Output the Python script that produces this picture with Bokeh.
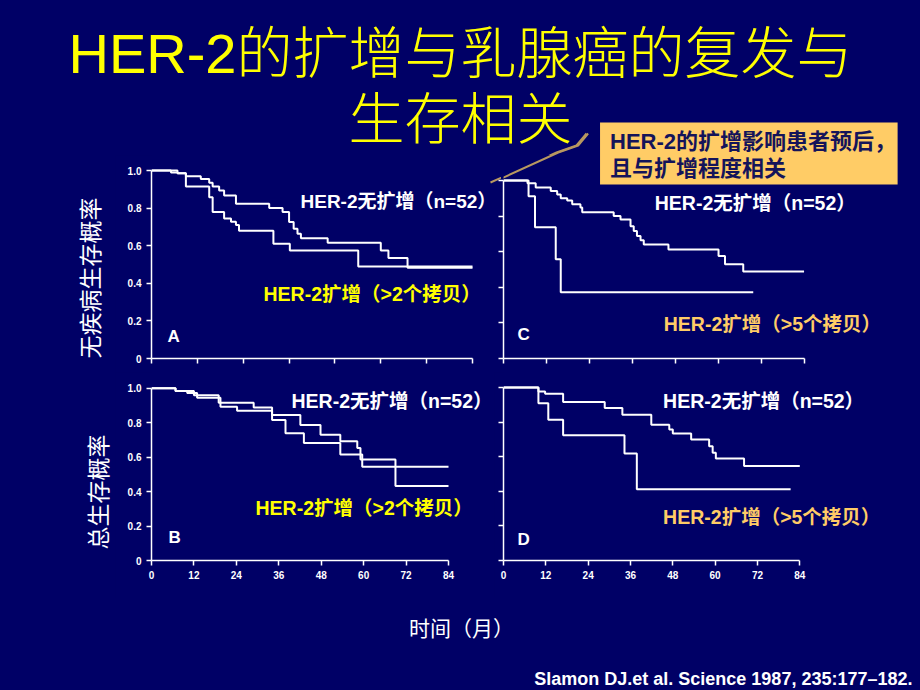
from math import pi
from bokeh.plotting import figure
from bokeh.layouts import column, row
from bokeh.models import (Range1d, FixedTicker, CustomJSTickFormatter,
                          CustomLabelingPolicy, GlobalInlineStyleSheet)
from bokeh.core.properties import value
from bokeh.embed import file_html
from bokeh.resources import INLINE

# ---------------- data ----------------
MONTH_TICKS = [0, 12, 24, 36, 48, 60, 72, 84]
SURV_TICKS = [0, 0.2, 0.4, 0.6, 0.8, 1.0]

# Panel A: disease-free survival, >2 copies
A_NONAMP_T = [0, 5.1, 6.8, 9.0, 12.9, 15.1, 16.0, 17.7, 19.0, 22.1, 30.8, 34.3, 36.0, 37.2, 38.2, 39.1, 46.1, 60.0, 62.0, 67.0, 84]
A_NONAMP_S = [1.0, 0.99, 0.985, 0.97, 0.955, 0.935, 0.915, 0.894, 0.867, 0.823, 0.80, 0.779, 0.726, 0.69, 0.664, 0.64, 0.616, 0.575, 0.535, 0.483, 0.483]
A_AMP_T = [0, 6.8, 9.0, 15.1, 16.0, 19.0, 20.8, 22.1, 22.9, 31.9, 36.2, 54.1, 84]
A_AMP_S = [1.0, 0.985, 0.915, 0.858, 0.779, 0.745, 0.727, 0.71, 0.68, 0.61, 0.575, 0.49, 0.49]

# Panel B: overall survival, >2 copies
B_NONAMP_T = [0, 6.8, 10.1, 12.9, 19.5, 24.2, 34.1, 37.9, 43.1, 53.4, 59.6, 84]
B_NONAMP_S = [1.0, 0.985, 0.973, 0.946, 0.893, 0.870, 0.816, 0.739, 0.682, 0.615, 0.544, 0.544]
B_AMP_T = [0, 6.8, 12.0, 19.0, 28.9, 34.1, 42.1, 47.8, 53.4, 58.2, 59.1, 69.0, 84]
B_AMP_S = [1.0, 0.985, 0.96, 0.916, 0.889, 0.845, 0.787, 0.73, 0.692, 0.653, 0.586, 0.433, 0.433]

# Panel C: disease-free survival, >5 copies
C_NONAMP_T = [0, 6.7, 9.0, 13.2, 15.0, 16.0, 17.8, 19.2, 21.5, 22.0, 30.8, 32.7, 35.5, 36.4, 37.3, 38.3, 39.2, 46.1, 60.1, 61.9, 67.0, 84]
C_NONAMP_S = [1.0, 0.985, 0.96, 0.941, 0.922, 0.90, 0.887, 0.866, 0.848, 0.822, 0.80, 0.781, 0.743, 0.716, 0.688, 0.664, 0.641, 0.613, 0.576, 0.53, 0.489, 0.489]
C_AMP_T = [0, 7.0, 8.8, 14.6, 16.0, 69.8]
C_AMP_S = [1.0, 0.911, 0.738, 0.558, 0.372, 0.372]

# Panel D: overall survival, >5 copies
D_NONAMP_T = [0, 9.9, 11.8, 16.9, 28.7, 33.7, 41.9, 47.0, 48.0, 53.2, 58.3, 59.3, 60.2, 68.2, 84]
D_NONAMP_S = [1.0, 0.977, 0.964, 0.916, 0.881, 0.843, 0.785, 0.757, 0.734, 0.699, 0.661, 0.623, 0.59, 0.546, 0.546]
D_AMP_T = [0, 9.9, 12.7, 16.9, 34.3, 37.8, 81.4]
D_AMP_S = [1.0, 0.909, 0.814, 0.724, 0.619, 0.412, 0.412]

TITLE_LINES = ["HER-2的扩增与乳腺癌的复发与", "生存相关"]
NOTE_LINES = ["HER-2的扩增影响患者预后，", "且与扩增程度相关"]
LBL_NONAMP = "HER-2无扩增（n=52）"
LBL_AMP2 = "HER-2扩增（>2个拷贝）"
LBL_AMP5 = "HER-2扩增（>5个拷贝）"
Y_LABELS = ["无疾病生存概率", "总生存概率"]
X_LABEL = "时间（月）"
CITATION = "Slamon DJ.et al. Science 1987, 235:177–182."
PANEL_LETTERS = ["A", "B", "C", "D"]

# ---------------- styles ----------------
BG = "#000066"
YELLOW = "#FFFF00"
ORANGE = "#FFCC66"
NOTE_TEXT = "#14145A"
LEADER = "#B89860"
FONT = "Liberation Sans, Noto Sans CJK SC"
TITLE_FONT = "Liberation Sans, Noto Sans CJK SC Light, Noto Sans CJK SC"
CJK = "Noto Sans CJK SC"

# page layout (page pixel coordinates)
PX_L, PX_R, PX_T, PX_B = 0, 920, 0, 690
STRIP = 115
COL_SPLIT = 494
ROW1, ROW2, ROW3 = 155, 372, 598
A_RIGHT = 501      # panel A's canvas reaches under panel C's (transparent) left border
C_TOP = 119        # panel C's canvas reaches up under the title so the note box is not split


def base_fig(x0, x1, y0, y1):
    p = figure(width=x1 - x0, height=y1 - y0, title=None,
               x_range=Range1d(x0, x1), y_range=Range1d(y1, y0),
               min_border=0, x_axis_location=None, y_axis_location=None,
               output_backend="svg", toolbar_location=None,
               background_fill_color=BG, border_fill_color=BG, outline_line_color=None)
    p.grid.visible = False
    return p


def make_panel(fig_left, fig_right, fig_top, fig_bottom, x0, x84, y0, y1, show_x, show_y,
               transparent=False, margin=(0, 0, 0, 0)):
    sx = (x84 - x0) / 84.0
    sy = float(y0 - y1)

    def fx(px):
        return (px - x0) / sx

    def fy(py):
        return (y0 - py) / sy

    p = figure(width=fig_right - fig_left, height=fig_bottom - fig_top, title=None,
               x_range=Range1d(0, fx(fig_right)), y_range=Range1d(0, fy(fig_top)),
               min_border_left=x0 - fig_left, min_border_right=0, min_border_top=0,
               min_border_bottom=fig_bottom - y0, output_backend="svg",
               toolbar_location=None, background_fill_color=BG,
               border_fill_color=BG, outline_line_color=None, margin=margin)
    if transparent:
        p.background_fill_alpha = 0
        p.border_fill_alpha = 0
    p.grid.visible = False
    for ax, ticks, show in ((p.xaxis[0], MONTH_TICKS, show_x), (p.yaxis[0], SURV_TICKS, show_y)):
        ax.ticker = FixedTicker(ticks=ticks)
        ax.bounds = (ticks[0], ticks[-1])
        ax.axis_line_color = "white"
        ax.axis_line_width = 1.5
        ax.major_tick_line_color = "white"
        ax.major_tick_line_width = 1.5
        ax.major_tick_in = 0
        ax.major_tick_out = 5
        ax.minor_tick_line_color = None
        if show:
            ax.major_label_text_color = "white"
            ax.major_label_text_font = "Liberation Sans"
            ax.major_label_text_font_style = "bold"
            ax.major_label_text_font_size = "10px"
            ax.major_label_standoff = 5
        else:
            ax.major_label_policy = CustomLabelingPolicy(code="return [];")
            ax.major_label_text_font_size = "1px"
            ax.major_label_standoff = 0
    p.yaxis[0].formatter = CustomJSTickFormatter(code="return tick == 0 ? '0' : tick.toFixed(1);")
    return p, fx, fy


def add_text(p, fx, fy, px, py, txt, color, size, bold=True, align="left", font=FONT, angle=0.0):
    p.text(x=[fx(px)], y=[fy(py)], text=[txt], text_color=color, angle=angle,
           text_font=value(font), text_font_size=size,
           text_font_style="bold" if bold else "normal",
           text_align=align, text_baseline="middle")


def ident(v):
    return v


LEAD_X = [586, 576, 556, 490]
LEAD_Y = [133, 145, 152, 182]

# ---------------- top (title) ----------------
top = base_fig(PX_L, PX_R, PX_T, ROW1)
add_text(top, ident, ident, 460, 53, TITLE_LINES[0], YELLOW, "56px", bold=False, align="center", font=TITLE_FONT)
add_text(top, ident, ident, 460, 119, TITLE_LINES[1], YELLOW, "56px", bold=False, align="center", font=TITLE_FONT)
top.line(LEAD_X, LEAD_Y, line_color=LEADER, line_width=2)

# ---------------- left strip (y labels) ----------------
strip = base_fig(PX_L, STRIP, ROW1, ROW3)
add_text(strip, ident, ident, 88, 277.5, Y_LABELS[0], "white", "23px", bold=False, align="center", font=CJK, angle=pi / 2)
add_text(strip, ident, ident, 96, 491.5, Y_LABELS[1], "white", "23px", bold=False, align="center", font=CJK, angle=pi / 2)

# ---------------- panels ----------------
pA, fxA, fyA = make_panel(STRIP, A_RIGHT, ROW1, ROW2, 151, 472, 358, 170, False, True,
                          margin=(0, COL_SPLIT - A_RIGHT, 0, 0))
pC, fxC, fyC = make_panel(COL_SPLIT, PX_R, C_TOP, ROW2, 501, 803, 358, 180, False, False,
                          transparent=True, margin=(C_TOP - ROW1, 0, 0, 0))
pB, fxB, fyB = make_panel(STRIP, COL_SPLIT, ROW2, ROW3, 151, 448, 562, 388, True, True)
pD, fxD, fyD = make_panel(COL_SPLIT, PX_R, ROW2, ROW3, 502, 799, 560, 387, True, False)

for p, t1, s1, t2, s2 in ((pA, A_NONAMP_T, A_NONAMP_S, A_AMP_T, A_AMP_S),
                          (pB, B_NONAMP_T, B_NONAMP_S, B_AMP_T, B_AMP_S),
                          (pC, C_NONAMP_T, C_NONAMP_S, C_AMP_T, C_AMP_S),
                          (pD, D_NONAMP_T, D_NONAMP_S, D_AMP_T, D_AMP_S)):
    p.step(t1, s1, mode="after", line_color="white", line_width=2)
    p.step(t2, s2, mode="after", line_color="white", line_width=2)

# callout box, entirely inside panel C's canvas
pC.quad(left=[fxC(598)], right=[fxC(897)], top=[fyC(122)], bottom=[fyC(184)],
        fill_color=ORANGE, line_color=None)
add_text(pC, fxC, fyC, 608, 141, NOTE_LINES[0], NOTE_TEXT, "22px")
add_text(pC, fxC, fyC, 608, 168, NOTE_LINES[1], NOTE_TEXT, "22px")
pC.line([fxC(v) for v in LEAD_X], [fyC(v) for v in LEAD_Y], line_color=LEADER, line_width=2)
pA.line([fxA(v) for v in LEAD_X], [fyA(v) for v in LEAD_Y], line_color=LEADER, line_width=2)

# curve labels
add_text(pA, fxA, fyA, 300, 201, LBL_NONAMP, "white", "19px")
add_text(pA, fxA, fyA, 263, 293.5, LBL_AMP2, YELLOW, "19.5px")
add_text(pC, fxC, fyC, 653, 202, LBL_NONAMP, "white", "19.5px")
add_text(pC, fxC, fyC, 662, 323.5, LBL_AMP5, ORANGE, "19.5px")
add_text(pB, fxB, fyB, 291, 400.5, LBL_NONAMP, "white", "19.5px")
add_text(pB, fxB, fyB, 255, 508.5, LBL_AMP2, YELLOW, "19.5px")
add_text(pD, fxD, fyD, 662, 400.5, LBL_NONAMP, "white", "19.5px")
add_text(pD, fxD, fyD, 662, 516.5, LBL_AMP5, ORANGE, "19.5px")

# panel letters
add_text(pA, fxA, fyA, 167, 336, PANEL_LETTERS[0], "white", "17px", font="Liberation Sans")
add_text(pB, fxB, fyB, 168, 538.5, PANEL_LETTERS[1], "white", "17px", font="Liberation Sans")
add_text(pC, fxC, fyC, 515, 334, PANEL_LETTERS[2], "white", "17px", font="Liberation Sans")
add_text(pD, fxD, fyD, 516, 538.5, PANEL_LETTERS[3], "white", "17px", font="Liberation Sans")

# ---------------- bottom ----------------
bot = base_fig(PX_L, PX_R, ROW3, PX_B)
add_text(bot, ident, ident, 461, 626.5, X_LABEL, "white", "21px", bold=False, align="center", font=CJK)
add_text(bot, ident, ident, 912, 678, CITATION, "white", "18px", align="right", font="Liberation Sans")

middle = row(strip, column(row(pA, pC), row(pB, pD)))
layout = column(top, middle, bot)
layout.stylesheets = [GlobalInlineStyleSheet(css="body { background-color: #000066; }")]

open("out.html", "w").write(file_html(layout, INLINE))
